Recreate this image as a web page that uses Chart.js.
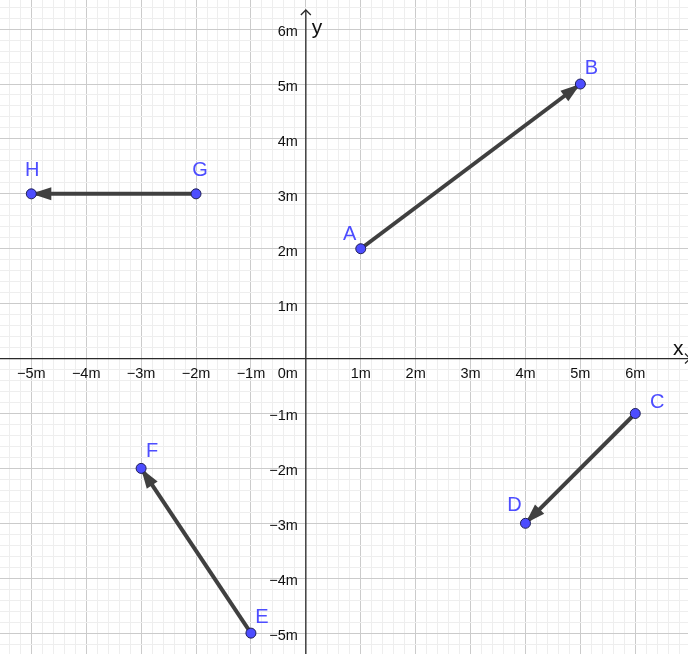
<!DOCTYPE html>
<html>
<head>
<meta charset="utf-8">
<script src="https://cdn.jsdelivr.net/npm/chart.js@4.4.0/dist/chart.umd.min.js"></script>
<style>
  html, body { margin: 0; padding: 0; background: #fff; }
  #wrap { width: 688px; height: 654px; }
</style>
</head>
<body>
<div id="wrap"><canvas id="vectorChart" width="688" height="654"></canvas></div>
<script>
// points and vectors (metres)
const pointNames = ['A', 'B', 'C', 'D', 'E', 'F', 'G', 'H'];
const pointX = [1, 5, 6, 4, -1, -3, -2, -5];
const pointY = [2, 5, -1, -3, -5, -2, 3, 3];
const vectorFrom = ['A', 'C', 'E', 'G'];
const vectorTo = ['B', 'D', 'F', 'H'];
const xTicks = [-5, -4, -3, -2, -1, 1, 2, 3, 4, 5, 6];
const yTicks = [-5, -4, -3, -2, -1, 1, 2, 3, 4, 5, 6];
const unit = 'm';

// label placement next to each point, in pixels
const labelOffsets = { A: [-11, -14], B: [11, -16], C: [22, -11], D: [-11, -18], E: [11, -16], F: [11, -17], G: [4, -23], H: [1, -23] };

const fontFamily = '"Liberation Sans", Arial, sans-serif';
const pointBlue = '#4d4dff';

function pt(name) {
    const i = pointNames.indexOf(name);
    return { x: pointX[i], y: pointY[i] };
}
function fmt(v) {
    return (v < 0 ? '\u2212' + (-v) : String(v)) + unit;
}

const vectorSets = vectorFrom.map((f, i) => ({
    type: 'line',
    label: f + vectorTo[i],
    data: [pt(f), pt(vectorTo[i])],
    borderColor: '#404040',
    borderWidth: 4,
    pointRadius: 0,
    fill: false,
    order: 1,
    isVector: true
}));

const pointSet = {
    type: 'scatter',
    label: 'points',
    data: pointNames.map(pt),
    pointRadius: 5,
    pointBackgroundColor: pointBlue,
    pointBorderColor: '#1f1f55',
    pointBorderWidth: 1,
    order: 0
};

const axesPlugin = {
    id: 'axes',
    beforeDatasetsDraw(chart) {
        const { ctx, scales: { x, y } } = chart;
        const x0 = x.getPixelForValue(0);
        const y0 = y.getPixelForValue(0);
        ctx.save();
        ctx.strokeStyle = '#2a2a2a';
        ctx.lineWidth = 1.3;
        ctx.beginPath();
        ctx.moveTo(0, y0); ctx.lineTo(chart.width + 2, y0);
        ctx.moveTo(x0, chart.height); ctx.lineTo(x0, 10);
        ctx.stroke();
        // open arrows at the axis ends
        ctx.beginPath();
        ctx.moveTo(x0 - 5, 15); ctx.lineTo(x0, 10); ctx.lineTo(x0 + 5, 15);
        ctx.moveTo(chart.width - 3, y0 - 5); ctx.lineTo(chart.width + 2, y0); ctx.lineTo(chart.width - 3, y0 + 5);
        ctx.stroke();

        ctx.fillStyle = '#111';
        ctx.font = '14.5px ' + fontFamily;
        ctx.textBaseline = 'alphabetic';
        ctx.textAlign = 'center';
        xTicks.forEach(v => ctx.fillText(fmt(v), x.getPixelForValue(v), y0 + 19));
        ctx.textAlign = 'right';
        ctx.fillText(fmt(0), x0 - 8, y0 + 19);
        yTicks.forEach(v => ctx.fillText(fmt(v), x0 - 8, y.getPixelForValue(v) + 7));

        ctx.textAlign = 'left';
        ctx.font = '21px ' + fontFamily;
        ctx.fillText('y', x0 + 6, 34);
        ctx.fillText('x', chart.width - 15, y0 - 4);
        ctx.restore();
    }
};

const arrowPlugin = {
    id: 'arrowHeads',
    afterDatasetDraw(chart, args) {
        const ds = chart.data.datasets[args.index];
        if (!ds.isVector) return;
        const meta = chart.getDatasetMeta(args.index);
        const a = meta.data[0], b = meta.data[1];
        const ang = Math.atan2(b.y - a.y, b.x - a.x);
        const len = 20, half = 6.5;
        const ctx = chart.ctx;
        ctx.save();
        ctx.translate(b.x, b.y);
        ctx.rotate(ang);
        ctx.fillStyle = ds.borderColor;
        ctx.beginPath();
        ctx.moveTo(0, 0);
        ctx.lineTo(-len, -half);
        ctx.lineTo(-len, half);
        ctx.closePath();
        ctx.fill();
        ctx.restore();
    }
};

const labelPlugin = {
    id: 'pointLabels',
    afterDatasetsDraw(chart) {
        const { ctx, scales: { x, y } } = chart;
        ctx.save();
        ctx.fillStyle = pointBlue;
        ctx.font = '20px ' + fontFamily;
        ctx.textAlign = 'center';
        ctx.textBaseline = 'middle';
        pointNames.forEach((n, i) => {
            const off = labelOffsets[n];
            ctx.fillText(n, x.getPixelForValue(pointX[i]) + off[0], y.getPixelForValue(pointY[i]) + off[1]);
        });
        ctx.restore();
    }
};

function gridColor(c) {
    const v = c.tick ? c.tick.value : 0;
    return Math.abs(v - Math.round(v)) < 1e-6 ? '#cbcbcb' : '#eeeeee';
}

const ctx = document.getElementById('vectorChart').getContext('2d');
const vectorChart = new Chart(ctx, {
    type: 'scatter',
    data: { datasets: [...vectorSets, pointSet] },
    options: {
        responsive: false,
        animation: false,
        layout: { padding: 0, autoPadding: false },
        plugins: { legend: { display: false }, tooltip: { enabled: false } },
        scales: {
            x: {
                type: 'linear',
                min: -5.57,
                max: 6.96,
                ticks: { display: false, stepSize: 0.2, maxTicksLimit: 1000, includeBounds: false },
                grid: { drawTicks: false, color: gridColor, lineWidth: 1 },
                border: { display: false }
            },
            y: {
                type: 'linear',
                min: -5.38,
                max: 6.53,
                ticks: { display: false, stepSize: 0.2, maxTicksLimit: 1000, includeBounds: false },
                grid: { drawTicks: false, color: gridColor, lineWidth: 1 },
                border: { display: false }
            }
        }
    },
    plugins: [axesPlugin, arrowPlugin, labelPlugin]
});
</script>
</body>
</html>
